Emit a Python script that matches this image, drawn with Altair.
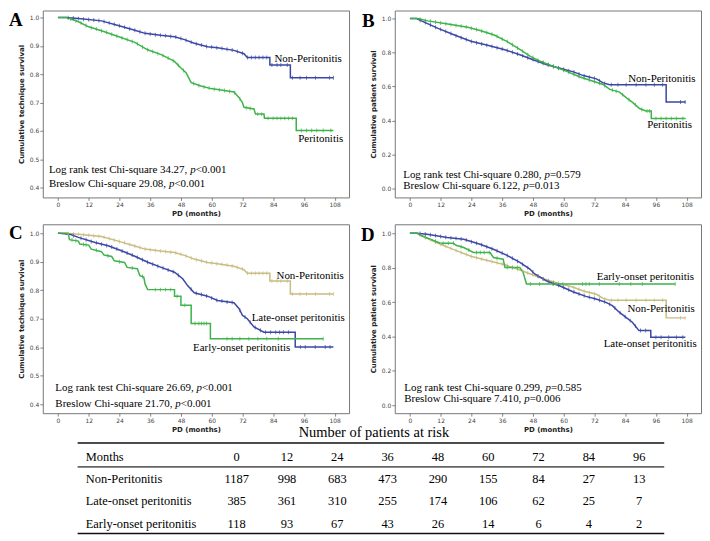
import altair as alt
import pandas as pd

# ------------------------------------------------------------------ data
MONTH_TICKS = [0, 12, 24, 36, 48, 60, 72, 84, 96, 108]

# technique survival, Non-Peritonitis (panels A and C)
np_tech_t = [0, 3, 8, 17, 23.5, 30, 34, 40, 45.5, 49.4, 53.2, 58.4, 62.3, 68.7, 72.6, 73.9, 82.7, 82.7, 90.7, 90.7, 107.5]
np_tech_v = [1.0, 1.0, 0.996, 0.988, 0.972, 0.955, 0.944, 0.937, 0.932, 0.922, 0.909, 0.897, 0.893, 0.884, 0.872, 0.859, 0.859, 0.832, 0.832, 0.787, 0.787]
np_tech_ct = [4, 6, 8, 10, 12, 14, 16, 18, 20, 22, 24, 26, 28, 30, 32, 34, 36, 38, 40, 42, 44, 46, 48, 50, 52, 54, 56, 58, 60, 62, 64, 66, 68, 70, 72, 74,
              75.5, 77, 78.5, 80, 81.5, 83.5, 85.5, 87, 89.5, 91.5, 94.5, 97, 100.5, 106, 107.5]
np_tech_cv = [0.999, 0.998, 0.996, 0.994, 0.993, 0.991, 0.989, 0.986, 0.981, 0.976, 0.971, 0.966, 0.960, 0.955, 0.950, 0.944, 0.942, 0.939,
              0.937, 0.936, 0.933, 0.931, 0.926, 0.920, 0.913, 0.907, 0.903, 0.898, 0.896, 0.893, 0.891, 0.888, 0.885, 0.880, 0.874, 0.859,
              0.859, 0.859, 0.859, 0.859, 0.859, 0.832, 0.832, 0.832, 0.832, 0.787, 0.787, 0.787, 0.787, 0.787, 0.787]

# technique survival, Peritonitis (panel A)
p_tech_t = [0, 3.5, 8, 12, 17, 23.5, 30, 35, 40.3, 45.5, 48, 50, 52, 55.8, 59.7, 63.6, 68.7, 70.7, 72, 72.6, 76.5, 77.1, 80.4, 80.6, 93, 93, 107.5]
p_tech_v = [1.0, 1.0, 0.985, 0.967, 0.953, 0.933, 0.912, 0.886, 0.869, 0.845, 0.822, 0.805, 0.770, 0.758, 0.749, 0.744, 0.737, 0.717, 0.700, 0.683, 0.677, 0.659, 0.659, 0.644, 0.644, 0.601, 0.601]
p_tech_ct = [5, 7, 9, 11, 13, 15, 17, 19, 21, 23, 25, 27, 29, 31, 33, 35, 37, 39, 41, 43, 45, 47, 49, 53, 55, 57, 59, 61, 63, 65, 67, 69, 71,
             73.5, 75, 78, 79.5, 82, 84, 85.5, 87, 88.5, 90, 91.5, 95, 97, 99, 101, 103.5, 106.5]
p_tech_cv = [0.995, 0.988, 0.981, 0.972, 0.964, 0.959, 0.953, 0.948, 0.941, 0.934, 0.928, 0.922, 0.915, 0.907, 0.896, 0.886, 0.880, 0.873,
             0.866, 0.857, 0.847, 0.831, 0.813, 0.767, 0.760, 0.755, 0.751, 0.747, 0.745, 0.742, 0.739, 0.734, 0.713,
             0.681, 0.679, 0.659, 0.659, 0.644, 0.644, 0.644, 0.644, 0.644, 0.644, 0.644, 0.601, 0.601, 0.601, 0.601, 0.601, 0.601]

# patient survival, Non-Peritonitis (panels B and D)
np_pat_t = [0, 2.6, 4.5, 11, 17.4, 23.8, 30.3, 36.7, 43.2, 48.3, 53.5, 58.6, 63.8, 67.7, 72.8, 75.4, 78, 100, 100, 107.6]
np_pat_v = [1.0, 1.0, 0.986, 0.942, 0.903, 0.866, 0.842, 0.818, 0.785, 0.756, 0.728, 0.707, 0.686, 0.664, 0.645, 0.621, 0.610, 0.610, 0.508, 0.508]
np_pat_ct = [4, 6, 8, 10, 12, 14, 16, 18, 20, 22, 24, 26, 28, 30, 32, 34, 36, 38, 40, 42, 44, 46, 48, 50, 52, 54, 56, 58, 60, 62, 64, 66, 68, 70, 72, 74, 76,
             78.6, 81.2, 84.4, 88.3, 92.1, 95.4, 98.6, 105.6, 107.4]
np_pat_cv = [0.990, 0.976, 0.962, 0.949, 0.936, 0.924, 0.912, 0.899, 0.887, 0.876, 0.865, 0.857, 0.850, 0.843, 0.836, 0.828, 0.821, 0.812,
             0.801, 0.791, 0.780, 0.769, 0.758, 0.747, 0.736, 0.726, 0.718, 0.709, 0.701, 0.693, 0.685, 0.674, 0.663, 0.655, 0.648, 0.634, 0.618,
             0.610, 0.610, 0.610, 0.610, 0.610, 0.610, 0.610, 0.508, 0.508]

# patient survival, Peritonitis (panel B)
p_pat_t = [0, 3, 7, 14.8, 22.6, 27.7, 32.9, 38, 43.2, 47, 50.9, 56, 61.2, 66.4, 71.5, 75.4, 78, 81.8, 84.4, 87, 89.6, 92.1, 94.2, 94.2, 107.6]
p_pat_v = [1.0, 1.0, 0.986, 0.967, 0.948, 0.928, 0.903, 0.864, 0.816, 0.777, 0.748, 0.718, 0.689, 0.656, 0.631, 0.612, 0.583, 0.567, 0.534, 0.505, 0.470, 0.456, 0.456, 0.412, 0.412]
p_pat_ct = [4, 6, 8, 10, 12, 14, 16, 18, 20, 22, 24, 26, 28, 30, 32, 34, 36, 38, 40, 42, 44, 46, 48, 50, 52, 54, 56, 58, 60, 62, 64, 66, 68, 70, 72, 74, 76,
            79, 80.5, 83, 85.5, 88, 90.5, 92.5, 93.5, 96, 98, 100, 102, 104, 106.5]
p_pat_cv = [0.996, 0.989, 0.984, 0.979, 0.974, 0.969, 0.964, 0.959, 0.955, 0.950, 0.943, 0.935, 0.927, 0.917, 0.907, 0.895, 0.879, 0.864,
            0.846, 0.827, 0.808, 0.787, 0.770, 0.755, 0.742, 0.730, 0.718, 0.707, 0.696, 0.684, 0.671, 0.658, 0.648, 0.638, 0.628, 0.619, 0.605,
            0.579, 0.572, 0.552, 0.522, 0.492, 0.465, 0.456, 0.456, 0.412, 0.412, 0.412, 0.412, 0.412, 0.412]

# technique survival, Late-onset peritonitis (panel C)
late_tech_t = [0, 5, 8, 14.5, 19.6, 24.8, 30, 35.1, 40.3, 45.5, 48.7, 50.6, 53.2, 58.4, 62.3, 68.7, 70.7, 72, 73.9, 76.5, 80.4, 92.6, 92.6, 107.5]
late_tech_v = [1.0, 0.995, 0.985, 0.967, 0.956, 0.938, 0.919, 0.898, 0.880, 0.863, 0.840, 0.816, 0.791, 0.779, 0.764, 0.756, 0.735, 0.712, 0.700, 0.671, 0.653, 0.653, 0.601, 0.601]
late_tech_ct = [6, 9, 11, 13, 15, 17, 19, 21, 23, 25, 27, 29, 31, 33, 35, 37, 39, 41, 43, 45, 47, 52, 54, 56, 58, 60, 62, 64, 66, 68,
                71, 73, 75, 77, 79, 81, 83, 85, 86.5, 88, 90, 94.6, 96.5, 100.4, 104.3, 106.2]
late_tech_cv = [0.991, 0.982, 0.977, 0.971, 0.966, 0.961, 0.957, 0.951, 0.944, 0.937, 0.930, 0.923, 0.915, 0.907, 0.898, 0.891, 0.884, 0.878,
                0.871, 0.865, 0.852, 0.803, 0.789, 0.785, 0.780, 0.773, 0.765, 0.762, 0.759, 0.757,
                0.730, 0.706, 0.688, 0.669, 0.660, 0.653, 0.653, 0.653, 0.653, 0.653, 0.653, 0.601, 0.601, 0.601, 0.601, 0.601]

# technique survival, Early-onset peritonitis (panel C)
early_tech_t = [0, 4, 4.5, 8, 8.5, 12, 13, 17, 18, 21, 22, 26, 27, 31, 32, 33.5, 34, 35, 45.5, 45.5, 48, 48, 52, 52, 59.5, 59.5, 103.6]
early_tech_v = [1.0, 1.0, 0.977, 0.972, 0.962, 0.958, 0.944, 0.935, 0.923, 0.918, 0.903, 0.897, 0.880, 0.875, 0.851, 0.846, 0.822, 0.802, 0.802, 0.779, 0.779, 0.747, 0.747, 0.683, 0.683, 0.630, 0.630]
early_tech_ct = [5.5, 7, 10, 11, 15, 19.5, 24, 29, 33, 38, 40, 42, 44, 46.5, 49.5, 53.5, 55, 56, 57, 58, 66, 68, 71, 74.5, 78, 81.5, 86, 103.5]
early_tech_cv = [0.976, 0.974, 0.960, 0.959, 0.940, 0.921, 0.900, 0.878, 0.848, 0.802, 0.802, 0.802, 0.802, 0.779, 0.747,
                 0.683, 0.683, 0.683, 0.683, 0.683, 0.630, 0.630, 0.630, 0.630, 0.630, 0.630, 0.630, 0.630]

# patient survival, Late-onset peritonitis (panel D)
late_pat_t = [0, 2.5, 6.7, 14.5, 21, 27.4, 32.6, 37.7, 42.9, 46.8, 48.7, 53.2, 58.4, 63.6, 68.7, 72.6, 76.5, 79, 81.7, 84.2, 86.8, 89.4, 94, 94, 107.5]
late_pat_v = [1.0, 1.0, 0.994, 0.975, 0.965, 0.936, 0.907, 0.873, 0.830, 0.792, 0.763, 0.724, 0.695, 0.660, 0.633, 0.618, 0.598, 0.579, 0.541, 0.512, 0.483, 0.434, 0.434, 0.396, 0.396]
late_pat_ct = [4, 6, 8, 10, 12, 14, 16, 18, 20, 22, 24, 26, 28, 30, 32, 34, 36, 38, 40, 42, 44, 46, 48, 50, 52, 54, 56, 58, 60, 62,
               64, 66, 68, 70, 72, 74, 76, 78, 80, 82, 84, 86, 88, 90, 92, 96, 98, 101, 104, 106.5]
late_pat_cv = [0.998, 0.995, 0.991, 0.986, 0.981, 0.976, 0.973, 0.970, 0.967, 0.961, 0.951, 0.942, 0.933, 0.921, 0.910, 0.898, 0.885, 0.870,
               0.854, 0.837, 0.820, 0.800, 0.774, 0.752, 0.734, 0.720, 0.708, 0.697, 0.684, 0.671, 0.658, 0.647, 0.637, 0.628, 0.620, 0.611,
               0.601, 0.587, 0.565, 0.538, 0.514, 0.492, 0.460, 0.434, 0.434, 0.396, 0.396, 0.396, 0.396, 0.396]

# patient survival, Early-onset peritonitis (panel D)
early_pat_t = [0, 3, 4.1, 8, 11.9, 17, 18, 21, 24.8, 31.3, 32.6, 36.4, 37.1, 42.9, 44.2, 45.5, 103.6]
early_pat_v = [1.0, 1.0, 0.988, 0.965, 0.942, 0.942, 0.930, 0.917, 0.888, 0.888, 0.859, 0.849, 0.801, 0.801, 0.772, 0.705, 0.705]
early_pat_ct = [6, 10, 13, 15, 17, 20, 23, 26, 27.5, 29, 31, 34, 38, 40, 42, 47, 50.6, 55.8, 57.1, 59.7, 67.4, 68.7, 70, 73.9, 81.7, 86.2, 90.7, 103.5]
early_pat_cv = [0.976, 0.953, 0.942, 0.942, 0.942, 0.921, 0.902, 0.888, 0.888, 0.888, 0.888, 0.855, 0.801, 0.801, 0.801, 0.705,
                0.705, 0.705, 0.705, 0.705, 0.705, 0.705, 0.705, 0.705, 0.705, 0.705, 0.705, 0.705]

# number at risk table
risk_title = "Number of patients at risk"
risk_months = [0, 12, 24, 36, 48, 60, 72, 84, 96]
risk_groups = ["Non-Peritonitis", "Late-onset peritonitis", "Early-onset peritonitis"]
risk_np = [1187, 998, 683, 473, 290, 155, 84, 27, 13]
risk_late = [385, 361, 310, 255, 174, 106, 62, 25, 7]
risk_early = [118, 93, 67, 43, 26, 14, 6, 4, 2]

stats_text = {
    "A": [("Log rank test Chi-square 34.27, ", "<0.001"), ("Breslow Chi-square 29.08, ", "<0.001")],
    "B": [("Log rank test Chi-square 0.280, ", "=0.579"), ("Breslow Chi-square 6.122, ", "=0.013")],
    "C": [("Log rank test Chi-square 26.69, ", "<0.001"), ("Breslow Chi-square 21.70, ", "<0.001")],
    "D": [("Log rank test Chi-square 0.299, ", "=0.585"), ("Breslow Chi-square 7.410, ", "=0.006")],
}

# ------------------------------------------------------------------ style / layout
BLUE = "#3a47a4"
GREEN = "#3db34a"
TAN = "#c8bd82"
SERIF = "Liberation Serif"
SANS = "DejaVu Sans"
PW = 308
GAP = 46
X_DOM = [-5.9, 113.6]
PX = PW / (X_DOM[1] - X_DOM[0])
ANN = 11

TNR_W = {" ": 250, ",": 250, ".": 250, "-": 333, "<": 564, "=": 564, "B": 667, "C": 667, "L": 611,
         "a": 444, "e": 444, "g": 500, "h": 500, "i": 278, "k": 500, "l": 278, "n": 500, "o": 500,
         "q": 500, "r": 333, "s": 389, "t": 278, "u": 500, "w": 722}


def tw(s, size):
    return sum(TNR_W.get(ch, 500) for ch in s) * size / 1000.0


def panel(curves, labels, letter, letter_xy, stat_xy, ydom, yticks, ytitle, height):
    line_rows, cens_rows = [], []
    for name, t, v, ct, cv, _ in curves:
        for i, (a, b) in enumerate(zip(t, v)):
            line_rows.append({"series": name, "t": a, "v": b, "i": i})
        for a, b in zip(ct, cv):
            cens_rows.append({"series": name, "t": a, "v": b})
    names = [c[0] for c in curves]
    cols = [c[5] for c in curves]
    x = alt.X("t:Q", scale=alt.Scale(domain=X_DOM, nice=False, zero=False),
              axis=alt.Axis(values=MONTH_TICKS, title="PD (months)", labelFlush=False))
    y = alt.Y("v:Q", scale=alt.Scale(domain=ydom, nice=False, zero=False),
              axis=alt.Axis(values=yticks, format=".1f", title=ytitle, labelFlush=False))
    color = alt.Color("series:N", scale=alt.Scale(domain=names, range=cols), legend=None)

    lines = alt.Chart(pd.DataFrame(line_rows)).mark_line(strokeWidth=1.5).encode(
        x=x, y=y, color=color, detail="series:N", order="i:Q")
    ticks = alt.Chart(pd.DataFrame(cens_rows)).mark_tick(orient="vertical", size=4, thickness=1).encode(
        x=x, y=y, color=color)

    lab_df = pd.DataFrame([{"t": a, "v": b, "text": s} for s, a, b in labels])
    lab = alt.Chart(lab_df).mark_text(font=SERIF, fontSize=ANN, align="left", baseline="middle", color="black").encode(
        x=x, y=y, text="text:N")

    x0, v1, v2 = stat_xy
    roman, ital = [], []
    for (pre, post), vv in zip(stats_text[letter], [v1, v2]):
        w = tw(pre, ANN)
        roman.append({"t": x0, "v": vv, "text": pre})
        ital.append({"t": x0 + w / PX, "v": vv, "text": "p"})
        roman.append({"t": x0 + (w + 0.5 * ANN) / PX, "v": vv, "text": post})
    st1 = alt.Chart(pd.DataFrame(roman)).mark_text(font=SERIF, fontSize=ANN, align="left", baseline="middle", color="black").encode(
        x=x, y=y, text="text:N")
    st2 = alt.Chart(pd.DataFrame(ital)).mark_text(font=SERIF, fontSize=ANN, fontStyle="italic", align="left", baseline="middle", color="black").encode(
        x=x, y=y, text="text:N")

    let_df = pd.DataFrame([{"t": letter_xy[0], "v": letter_xy[1], "text": letter}])
    let = alt.Chart(let_df).mark_text(font=SERIF, fontSize=19, fontWeight="bold", align="left", baseline="top", color="black").encode(
        x=x, y=y, text="text:N")

    return alt.layer(lines, ticks, lab, st1, st2, let).properties(width=PW, height=height)


TECH = [0.4, 0.5, 0.6, 0.7, 0.8, 0.9, 1.0]
PAT = [0.0, 0.2, 0.4, 0.6, 0.8, 1.0]

A = panel(
    [("Non-Peritonitis", np_tech_t, np_tech_v, np_tech_ct, np_tech_cv, BLUE),
     ("Peritonitis", p_tech_t, p_tech_v, p_tech_ct, p_tech_cv, GREEN)],
    [("Non-Peritonitis", 84.5, 0.853), ("Peritonitis", 93.8, 0.571)],
    "A", (-19.1, 1.024), (-3.5, 0.463, 0.411), [0.365, 1.0246], TECH, "Cumulative technique survival", 188)

B = panel(
    [("Non-Peritonitis", np_pat_t, np_pat_v, np_pat_ct, np_pat_cv, BLUE),
     ("Peritonitis", p_pat_t, p_pat_v, p_pat_ct, p_pat_cv, GREEN)],
    [("Non-Peritonitis", 85.2, 0.645), ("Peritonitis", 92.6, 0.372)],
    "B", (-18.7, 1.040), (-2.6, 0.081, 0.017), [-0.053, 1.047], PAT, "Cumulative patient survival", 188)

C = panel(
    [("Non-Peritonitis", np_tech_t, np_tech_v, np_tech_ct, np_tech_cv, TAN),
     ("Late-onset peritonitis", late_tech_t, late_tech_v, late_tech_ct, late_tech_cv, BLUE),
     ("Early-onset peritonitis", early_tech_t, early_tech_v, early_tech_ct, early_tech_cv, GREEN)],
    [("Non-Peritonitis", 85.3, 0.85), ("Late-onset peritonitis", 75.6, 0.703), ("Early-onset peritonitis", 52.7, 0.599)],
    "C", (-19.1, 1.030), (-1.0, 0.456, 0.400), [0.369, 1.031], TECH, "Cumulative technique survival", 190)

D = panel(
    [("Non-Peritonitis", np_pat_t, np_pat_v, np_pat_ct, np_pat_cv, TAN),
     ("Late-onset peritonitis", late_pat_t, late_pat_v, late_pat_ct, late_pat_cv, BLUE),
     ("Early-onset peritonitis", early_pat_t, early_pat_v, early_pat_ct, early_pat_cv, GREEN)],
    [("Early-onset peritonitis", 72.9, 0.745), ("Non-Peritonitis", 84.9, 0.559), ("Late-onset peritonitis", 75.6, 0.357)],
    "D", (-19.1, 1.040), (-2.2, 0.098, 0.035), [-0.046, 1.052], PAT, "Cumulative patient survival", 190)

# ------------------------------------------------------------------ table
# the table view occupies the first grid column (width PW); its content runs past it to the right
COLW = 50.6
T_XDOM = [-3.854, -3.854 + PW / COLW]
T_YDOM = [-0.759, 3.482]
cells = [{"c": -3.0, "r": 0, "text": "Months", "al": "l"}]
for j, m in enumerate(risk_months):
    cells.append({"c": j, "r": 0, "text": str(m), "al": "c"})
for r, (g, vals) in enumerate(zip(risk_groups, [risk_np, risk_late, risk_early]), start=1):
    cells.append({"c": -3.0, "r": r, "text": g, "al": "l"})
    for j, val in enumerate(vals):
        cells.append({"c": j, "r": r, "text": str(val), "al": "c"})
cells_df = pd.DataFrame(cells)

tx = alt.X("c:Q", scale=alt.Scale(domain=T_XDOM, nice=False, zero=False), axis=None)
ty = alt.Y("r:Q", scale=alt.Scale(domain=T_YDOM, nice=False, zero=False, reverse=True), axis=None)

t_left = alt.Chart(cells_df).transform_filter(alt.datum.al == "l").mark_text(
    font=SERIF, fontSize=12.5, align="left", baseline="middle", color="black").encode(x=tx, y=ty, text="text:N")
t_num = alt.Chart(cells_df).transform_filter(alt.datum.al == "c").mark_text(
    font=SERIF, fontSize=12.5, align="center", baseline="middle", color="black").encode(x=tx, y=ty, text="text:N")

title_df = pd.DataFrame([{"c": 2.727, "r": -0.893, "text": risk_title}])
t_title = alt.Chart(title_df).mark_text(
    font=SERIF, fontSize=14.5, align="center", baseline="alphabetic", color="black").encode(x=tx, y=ty, text="text:N")

outer = pd.DataFrame({"c": [-3.162, -3.162], "c2": [8.498, 8.498], "r": [-0.625, 3.4375]})
inner = pd.DataFrame({"c": [-3.162], "c2": [8.498], "r": [0.446]})
r_outer = alt.Chart(outer).mark_rule(color="#111", strokeWidth=1.6).encode(x=tx, x2="c2:Q", y=ty)
r_inner = alt.Chart(inner).mark_rule(color="#666", strokeWidth=2).encode(x=tx, x2="c2:Q", y=ty)

T = alt.layer(r_outer, r_inner, t_left, t_num, t_title).properties(
    width=PW, height=95,
    view=alt.ViewBackground(stroke="transparent"),
)

chart = alt.concat(A, B, C, D, T, columns=2, spacing={"row": 27, "column": GAP},
                   bounds="flush", align="none").resolve_scale(color="independent").properties(
    padding=0, background="white")

chart = chart.configure_axis(
    labelFont=SANS, labelFontSize=6, labelColor="#444", tickColor="#666", tickSize=3, tickWidth=0.8,
    domain=False, grid=False, titleFont=SANS, titleFontSize=7, titleFontWeight="bold", titleColor="#222",
    labelPadding=1,
).configure_axisX(titlePadding=2).configure_axisY(titlePadding=5).configure_view(stroke="#777", strokeWidth=1)

chart.save("out.html", embed_options={"renderer": "svg", "actions": False})
